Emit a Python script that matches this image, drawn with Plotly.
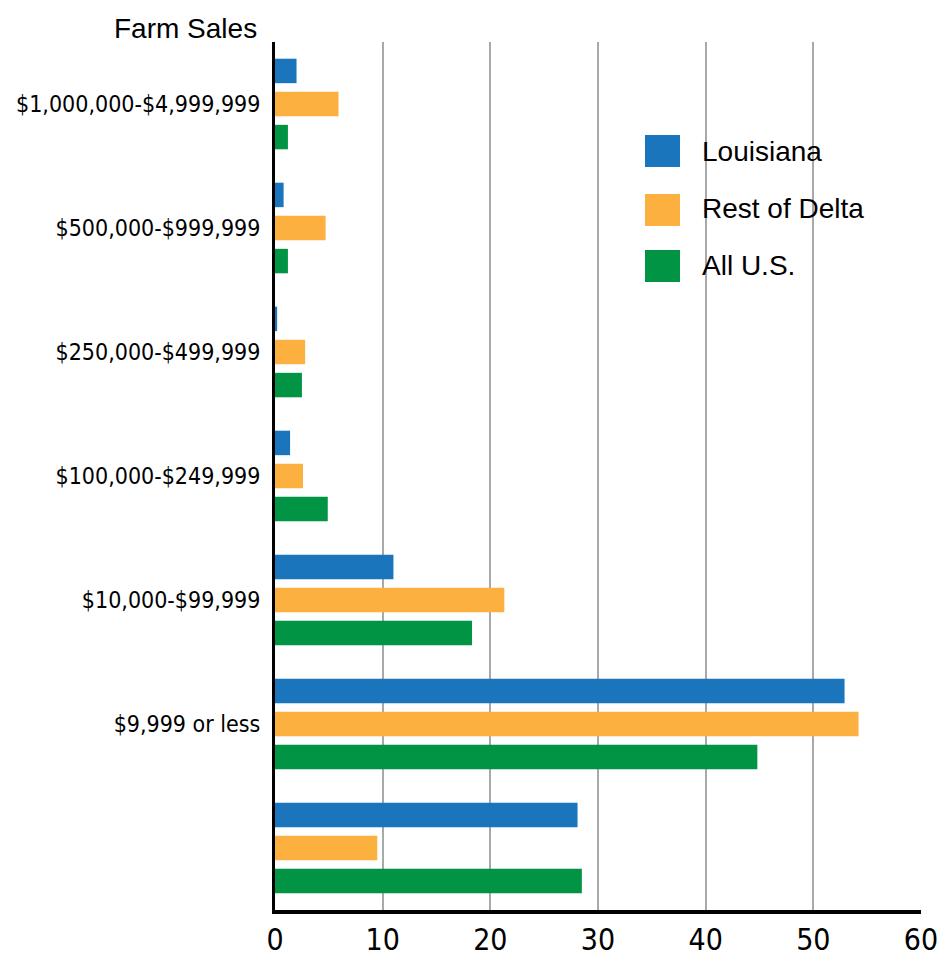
import plotly.graph_objects as go

# farm sales classes, top to bottom (last class has no label in the source)
categories = ["$1,000,000-$4,999,999", "$500,000-$999,999", "$250,000-$499,999",
              "$100,000-$249,999", "$10,000-$99,999", "$9,999 or less", " "]

louisiana = [2.0, 0.8, 0.2, 1.4, 11.0, 52.9, 28.1]
rest_of_delta = [5.9, 4.7, 2.8, 2.6, 21.3, 54.2, 9.5]
all_us = [1.2, 1.2, 2.5, 4.9, 18.3, 44.8, 28.5]

series = [("Louisiana", louisiana, "#1B75BC"),
          ("Rest of Delta", rest_of_delta, "#FBB040"),
          ("All U.S.", all_us, "#009444")]

W, H = 952, 968
PAD = 8  # page body margin
L, R, T, B = 275 - PAD, 31 + PAD, 42 - PAD, 58 + PAD
COND = "DejaVu Sans Condensed, Liberation Sans Narrow, Arial Narrow, sans-serif"


def px_x(p):
    return (p - PAD - L) / (W - L - R)


def px_y(p):
    return (H - B - (p - PAD)) / (H - T - B)


fig = go.Figure()
for name, vals, color in series:
    fig.add_trace(go.Bar(y=categories, x=vals, name=name, orientation="h",
                         marker=dict(color=color, line=dict(width=0)),
                         showlegend=False))

# legend drawn by hand, the source uses big square swatches
legend_rows = [(135, 167, 151), (194, 226, 209), (250, 282, 265)]
for (name, vals, color), (top, bot, mid) in zip(series, legend_rows):
    fig.add_shape(type="rect", xref="paper", yref="paper",
                  x0=px_x(645), x1=px_x(680), y0=px_y(bot), y1=px_y(top),
                  fillcolor=color, line=dict(width=0))
    fig.add_annotation(text=name, xref="paper", yref="paper",
                       x=px_x(700), y=px_y(mid), xanchor="left", yanchor="middle",
                       showarrow=False,
                       font=dict(family="Liberation Sans, Arial", size=28, color="black"))

fig.add_annotation(text="Farm Sales", xref="paper", yref="paper",
                   x=px_x(259), y=px_y(29), xanchor="right", yanchor="middle",
                   showarrow=False,
                   font=dict(family="Liberation Sans, Arial", size=28, color="black"))

fig.update_layout(
    width=W, height=H,
    margin=dict(l=L, r=R, t=T, b=B),
    paper_bgcolor="white", plot_bgcolor="white",
    barmode="group", bargap=0.2, bargroupgap=0.26,
    showlegend=False,
)
fig.update_xaxes(range=[0, 60], dtick=10, showgrid=True, gridcolor="#A7A9AC",
                 gridwidth=2, zeroline=False, showline=True, linecolor="black",
                 linewidth=4, ticks="", automargin=False,
                 tickfont=dict(family=COND, size=30, color="black"))
fig.update_yaxes(autorange="reversed", showgrid=False, showline=True,
                 linecolor="black", linewidth=3, ticks="", ticklabelstandoff=7,
                 automargin=False,
                 tickfont=dict(family=COND, size=23, color="black"))

fig.write_html("out.html")
